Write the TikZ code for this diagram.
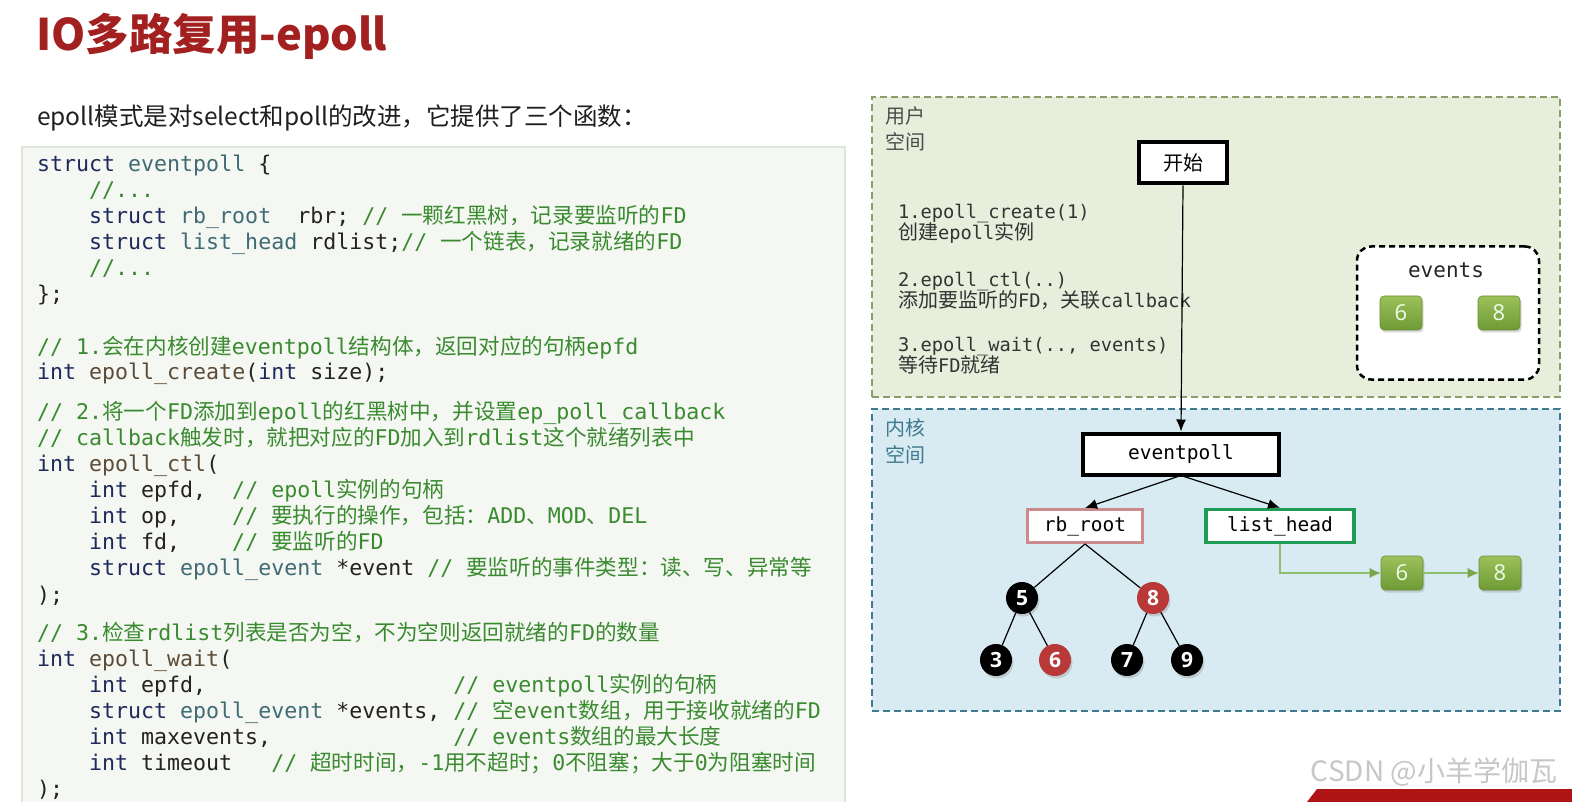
\documentclass[tikz,border=0pt]{standalone}
\usepackage{fontspec}
\setmainfont{Noto Sans CJK SC}
\setmonofont{DejaVu Sans Mono}
\newfontfamily\cjk{Noto Sans CJK SC}
\newfontfamily\numfont{Open Sans}
\usetikzlibrary{arrows.meta,shadows}
\definecolor{titlered}{HTML}{A32020}
\definecolor{kw}{HTML}{1F2A5C}
\definecolor{ty}{HTML}{3F6B75}
\definecolor{fn}{HTML}{5C4B37}
\definecolor{cm}{HTML}{3A8A30}
\definecolor{plain}{HTML}{222222}
\definecolor{codebg}{HTML}{F4F7F2}
\definecolor{codeedge}{HTML}{E0E4DE}
\definecolor{userfill}{HTML}{E8EEDC}
\definecolor{userdraw}{HTML}{8E9B6A}
\definecolor{kernfill}{HTML}{D8EBF3}
\definecolor{kerndraw}{HTML}{3F7A8F}
\definecolor{rbdraw}{HTML}{CC8A8F}
\definecolor{lhdraw}{HTML}{1E9E55}
\definecolor{greentop}{HTML}{9CC15A}
\definecolor{greenbot}{HTML}{6E9A35}
\definecolor{greendraw}{HTML}{6A8F35}
\definecolor{garrow}{HTML}{8DBF6E}
\definecolor{redfill}{HTML}{B93838}
\definecolor{bannerred}{HTML}{B01515}
\newcommand\kwd[1]{\textcolor{kw}{#1}}
\newcommand\typ[1]{\textcolor{ty}{#1}}
\newcommand\fnc[1]{\textcolor{fn}{#1}}
\newcommand\cmt[1]{\textcolor{cm}{#1}}
\newcommand\zh[1]{{\cjk #1}}
\tikzset{
  codeline/.style={anchor=base west, inner sep=0pt, text=plain,
    font=\ttfamily\fontsize{21.6}{26}\selectfont},
  dtext/.style={anchor=base west, inner sep=0pt, text=black!80,
    font=\ttfamily\fontsize{18.7}{22}\selectfont},
  spacelabel/.style={anchor=west, inner sep=0pt, font=\cjk\fontsize{20}{24}\selectfont},
  userbox/.style={draw=userdraw, fill=userfill, line width=1.5pt, dash pattern=on 7pt off 4pt,
    minimum width=688, minimum height=300, inner sep=0pt},
  kernbox/.style={draw=kerndraw, fill=kernfill, line width=1.5pt, dash pattern=on 7pt off 4pt,
    minimum width=688, minimum height=302, inner sep=0pt},
  thickbox/.style={draw=black, fill=white, line width=4pt, inner sep=0pt},
  smallbox/.style={fill=white, inner sep=0pt, minimum height=33,
    font=\ttfamily\fontsize{19.5}{22}\selectfont},
  gsq/.style={draw=greendraw, line width=0.6pt, rounded corners=4pt, top color=greentop, bottom color=greenbot,
    minimum width=42, minimum height=34, inner sep=0pt, text=white!92!green,
    font=\numfont\fontsize{22}{22}\selectfont,
    drop shadow={shadow xshift=1.5pt, shadow yshift=-2.5pt, opacity=0.3}},
  bnode/.style={circle, fill=black, minimum size=32, inner sep=0pt, text=white,
    font=\numfont\bfseries\fontsize{21}{21}\selectfont,
    drop shadow={shadow xshift=1.5pt, shadow yshift=-2.5pt, opacity=0.3}},
  rnode/.style={bnode, fill=redfill},
  arr/.style={draw=black, line width=1.2pt, -{Latex[length=12pt,width=10pt]}},
  garr/.style={draw=garrow, line width=1.2pt, -{Latex[length=11pt,width=10pt,color=greenbot!90]}},
  tline/.style={draw=black, line width=1.2pt},
}
\begin{document}
\begin{tikzpicture}[x=1pt,y=-1pt]
\useasboundingbox (0,0) rectangle (1572,802);
\fill[white] (0,0) rectangle (1572,802);

% title and intro
\node[anchor=base west, inner sep=0pt, text=titlered, font=\cjk\bfseries\fontsize{43.5}{45}\selectfont] (title) at (36,51) {IO多路复用-epoll};
\node[anchor=base west, inner sep=0pt, text=black!88, font=\cjk\fontsize{24.5}{25}\selectfont] (intro) at (37,126) {epoll模式是对select和poll的改进，它提供了三个函数：};

% code panel
\fill[codebg] (22,147) rectangle (845,812);
\draw[codeedge, line width=1.2pt] (22,812) -- (22,147) -- (845,147) -- (845,812);

\node[codeline] (c1) at (37,172) {\kwd{struct} \typ{eventpoll} \{};
\node[codeline] (c2) at (89,198) {\cmt{//...}};
\node[codeline] (c3) at (89,224) {\kwd{struct} \typ{rb\_root}~~rbr; \cmt{// \zh{一颗红黑树，记录要监听的}FD}};
\node[codeline] (c4) at (89,250) {\kwd{struct} \typ{list\_head} rdlist;\cmt{// \zh{一个链表，记录就绪的}FD}};
\node[codeline] (c5) at (89,276) {\cmt{//...}};
\node[codeline] (c6) at (37,302) {\};};
\node[codeline] (c7) at (37,355) {\cmt{// 1.\zh{会在内核创建}eventpoll\zh{结构体，返回对应的句柄}epfd}};
\node[codeline] (c8) at (37,380) {\kwd{int} \fnc{epoll\_create}(\kwd{int} size);};
\node[codeline] (c9) at (37,419) {\cmt{// 2.\zh{将一个}FD\zh{添加到}epoll\zh{的红黑树中，并设置}ep\_poll\_callback}};
\node[codeline] (c10) at (37,445) {\cmt{// callback\zh{触发时，就把对应的}FD\zh{加入到}rdlist\zh{这个就绪列表中}}};
\node[codeline] (c11) at (37,471) {\kwd{int} \fnc{epoll\_ctl}(};
\node[codeline] (c12) at (89,497) {\kwd{int} epfd,~~\cmt{// epoll\zh{实例的句柄}}};
\node[codeline] (c13) at (89,523) {\kwd{int} op,~~~~\cmt{// \zh{要执行的操作，包括：}ADD\zh{、}MOD\zh{、}DEL}};
\node[codeline] (c14) at (89,549) {\kwd{int} fd,~~~~\cmt{// \zh{要监听的}FD}};
\node[codeline] (c15) at (89,575) {\kwd{struct} \typ{epoll\_event} *event \cmt{// \zh{要监听的事件类型：读、写、异常等}}};
\node[codeline] (c16) at (37,602) {);};
\node[codeline] (c17) at (37,640) {\cmt{// 3.\zh{检查}rdlist\zh{列表是否为空，不为空则返回就绪的}FD\zh{的数量}}};
\node[codeline] (c18) at (37,666) {\kwd{int} \fnc{epoll\_wait}(};
\node[codeline] (c19) at (89,692) {\kwd{int} epfd,~~~~~~~~~~~~~~~~~~~\cmt{// eventpoll\zh{实例的句柄}}};
\node[codeline] (c20) at (89,718) {\kwd{struct} \typ{epoll\_event} *events, \cmt{// \zh{空}event\zh{数组，用于接收就绪的}FD}};
\node[codeline] (c21) at (89,744) {\kwd{int} maxevents,~~~~~~~~~~~~~~\cmt{// events\zh{数组的最大长度}}};
\node[codeline] (c22) at (89,770) {\kwd{int} timeout~~~\cmt{// \zh{超时时间，}-1\zh{用不超时；}0\zh{不阻塞；大于}0\zh{为阻塞时间}}};
\node[codeline] (c23) at (37,796) {);};

% right diagram: spaces
\node[userbox] (user) at (1216,247) {};
\node[kernbox] (kern) at (1216,560) {};
\node[spacelabel, text=black!70] (u1) at (885,116) {用户};
\node[spacelabel, text=black!70] (u2) at (885,142) {空间};
\node[spacelabel, text=kerndraw] (k1) at (885,428) {内核};
\node[spacelabel, text=kerndraw] (k2) at (885,455) {空间};

% user-space steps
\node[dtext] (t1) at (898,219) {1.epoll\_create(1)};
\node[dtext] (t2) at (898,240) {{\cjk\fontsize{20}{22}\selectfont 创建}epoll{\cjk\fontsize{20}{22}\selectfont 实例}};
\node[dtext] (t3) at (898,287) {2.epoll\_ctl(..)};
\node[dtext] (t4) at (898,308) {{\cjk\fontsize{20}{22}\selectfont 添加要监听的}FD{\cjk\fontsize{20}{22}\selectfont ，关联}callback};
\node[dtext] (t5) at (898,352) {3.epoll\_wait(.., events)};
\node[dtext] (t6) at (898,373) {{\cjk\fontsize{20}{22}\selectfont 等待}FD{\cjk\fontsize{20}{22}\selectfont 就绪}};

% events array
\node[draw=black, fill=white, line width=2.5pt, dash pattern=on 6pt off 4pt, rounded corners=14pt,
  minimum width=182, minimum height=133, inner sep=0pt] (evbox) at (1448,313) {};
\node[inner sep=0pt, font=\ttfamily\fontsize{21}{22}\selectfont, text=black!85] (evlabel) at (1446,270) {events};
\node[gsq] (e6) at (1401,313) {6};
\node[gsq] (e8) at (1499,313) {8};

% start and kernel structures
\node[thickbox, minimum width=88, minimum height=41, font=\cjk\fontsize{20}{22}\selectfont] (start) at (1183,163) {开始};
\node[thickbox, minimum width=196, minimum height=41, font=\ttfamily\fontsize{19.5}{22}\selectfont] (ep) at (1181,454) {eventpoll};
\node[smallbox, draw=rbdraw, line width=3pt, minimum width=115] (rb) at (1085,526) {rb\_root};
\node[smallbox, draw=lhdraw, line width=3.5pt, minimum width=148] (lh) at (1280,526) {list\_head};

\draw[arr] (start.south) -- (ep.north);
\draw[arr] ([xshift=-3pt]ep.south) -- (rb.north);
\draw[arr] ([xshift=3pt]ep.south) -- (lh.north);

% red-black tree
\node[bnode] (n5) at (1022,598) {5};
\node[rnode] (n8) at (1153,598) {8};
\node[bnode] (n3) at (996,660) {3};
\node[rnode] (n6) at (1055,660) {6};
\node[bnode] (n7) at (1127,660) {7};
\node[bnode] (n9) at (1187,660) {9};
\draw[tline] (rb.south) -- (n5);
\draw[tline] (rb.south) -- (n8);
\draw[tline] (n5) -- (n3);
\draw[tline] (n5) -- (n6);
\draw[tline] (n8) -- (n7);
\draw[tline] (n8) -- (n9);

% ready list
\node[gsq] (l6) at (1402,573) {6};
\node[gsq] (l8) at (1500,573) {8};
\draw[garr] (lh.south) |- (l6.west);
\draw[garr] (l6) -- (l8);

% watermark and banner
\node[inner sep=0pt, text=black!22, font=\cjk\fontsize{28}{28}\selectfont] (wm) at (1434,772) {CSDN @小羊学伽瓦};
\fill[bannerred] (1307,802) -- (1317,789) -- (1572,789) -- (1572,802) -- cycle;
\end{tikzpicture}
\end{document}
